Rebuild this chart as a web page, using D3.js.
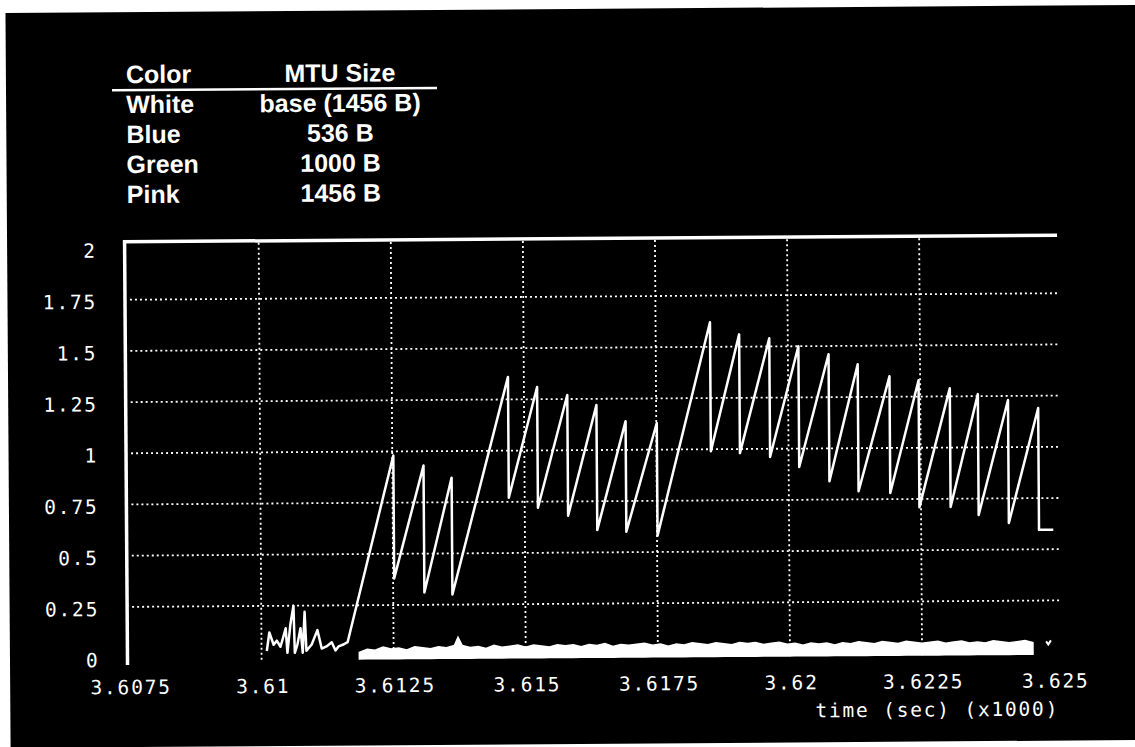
<!DOCTYPE html>
<html>
<head>
<meta charset="utf-8">
<script src="https://cdn.jsdelivr.net/npm/d3@7"></script>
<style>
    html, body { margin: 0; padding: 0; background: #fff; }
    svg { display: block; }
    .tick-label { font-family: "DejaVu Sans Mono", monospace; font-size: 19.5px; letter-spacing: 1.8px; fill: #fff; }
    .legend-text { font-family: "Liberation Sans", Arial, sans-serif; font-weight: bold; font-size: 25px; fill: #fff; }
</style>
</head>
<body>
<div id="chart"></div>
<script>
// legend table
const legendColors = ["White", "Blue", "Green", "Pink"];
const legendSizes = ["base (1456 B)", "536 B", "1000 B", "1456 B"];

// axis ticks
const xTicks = [3.6075, 3.61, 3.6125, 3.615, 3.6175, 3.62, 3.6225, 3.625];
const xTickLabels = ["3.6075", "3.61", "3.6125", "3.615", "3.6175", "3.62", "3.6225", "3.625"];
const yTicks = [0, 0.25, 0.5, 0.75, 1, 1.25, 1.5, 1.75, 2];
const yTickLabels = ["0", "0.25", "0.5", "0.75", "1", "1.25", "1.5", "1.75", "2"];
const xTitle = "time (sec) (x1000)";

// main trace, [time (s, x1000), value]
const trace = [
    [3.61010, 0.03], [3.61015, 0.12], [3.61023, 0.06], [3.61029, 0.08], [3.61036, 0.05],
    [3.61046, 0.14], [3.61049, 0.02], [3.61055, 0.16], [3.61061, 0.25], [3.61063, 0.02],
    [3.61068, 0.06], [3.61074, 0.14], [3.61078, 0.02], [3.61082, 0.22], [3.61085, 0.03],
    [3.61095, 0.06], [3.61106, 0.13], [3.61114, 0.04], [3.61123, 0.05], [3.61133, 0.07],
    [3.61140, 0.03], [3.61146, 0.05], [3.61156, 0.06], [3.61163, 0.07],
    [3.61252, 0.98], [3.61252, 0.38],
    [3.61309, 0.93], [3.61309, 0.31],
    [3.61362, 0.87], [3.61362, 0.30],
    [3.61470, 1.36], [3.61470, 0.77],
    [3.61525, 1.31], [3.61525, 0.72],
    [3.61582, 1.27], [3.61582, 0.68],
    [3.61637, 1.22], [3.61637, 0.61],
    [3.61692, 1.14], [3.61692, 0.60],
    [3.61751, 1.13], [3.61751, 0.58],
    [3.61853, 1.62], [3.61853, 0.99],
    [3.61908, 1.56], [3.61908, 0.98],
    [3.61965, 1.54], [3.61965, 0.96],
    [3.62020, 1.50], [3.62020, 0.91],
    [3.62077, 1.46], [3.62077, 0.84],
    [3.62132, 1.41], [3.62132, 0.79],
    [3.62192, 1.35], [3.62192, 0.78],
    [3.62247, 1.33], [3.62247, 0.71],
    [3.62306, 1.29], [3.62306, 0.71],
    [3.62359, 1.26], [3.62359, 0.67],
    [3.62416, 1.23], [3.62416, 0.63],
    [3.62473, 1.19], [3.62473, 0.595],
    [3.62500, 0.595]
];

// thick noisy band near zero: [time, top value]
const bandFloor = -0.012;
const band = [
    [3.61185, 0.02], [3.6120, 0.035], [3.61215, 0.03], [3.6123, 0.045], [3.61245, 0.035],
    [3.6126, 0.04], [3.61275, 0.03], [3.6129, 0.045], [3.61305, 0.04], [3.6132, 0.035],
    [3.61335, 0.045], [3.6135, 0.04], [3.61365, 0.05], [3.61372, 0.09], [3.6138, 0.05],
    [3.61395, 0.04], [3.6141, 0.045], [3.61425, 0.035], [3.6144, 0.05], [3.61455, 0.04],
    [3.6147, 0.045], [3.61485, 0.05], [3.615, 0.04], [3.61515, 0.05], [3.6153, 0.045],
    [3.61545, 0.04], [3.6156, 0.05], [3.61575, 0.045], [3.6159, 0.05], [3.61605, 0.04],
    [3.6162, 0.05], [3.61635, 0.045], [3.6165, 0.055], [3.61665, 0.04], [3.6168, 0.05],
    [3.61695, 0.045], [3.6171, 0.05], [3.61725, 0.055], [3.6174, 0.045], [3.61755, 0.05],
    [3.6177, 0.04], [3.61785, 0.05], [3.618, 0.045], [3.61815, 0.055], [3.6183, 0.05],
    [3.61845, 0.045], [3.6186, 0.055], [3.61875, 0.05], [3.6189, 0.045], [3.61905, 0.055],
    [3.6192, 0.05], [3.61935, 0.055], [3.6195, 0.045], [3.61965, 0.05], [3.6198, 0.055],
    [3.61995, 0.045], [3.6201, 0.05], [3.62025, 0.04], [3.6204, 0.05], [3.62055, 0.045],
    [3.6207, 0.05], [3.62085, 0.04], [3.621, 0.05], [3.62115, 0.045], [3.6213, 0.055],
    [3.62145, 0.05], [3.6216, 0.045], [3.62175, 0.055], [3.6219, 0.05], [3.62205, 0.045],
    [3.6222, 0.055], [3.62235, 0.05], [3.6225, 0.045], [3.62265, 0.05], [3.6228, 0.055],
    [3.62295, 0.045], [3.6231, 0.05], [3.62325, 0.055], [3.6234, 0.045], [3.62355, 0.05],
    [3.6237, 0.045], [3.62385, 0.055], [3.624, 0.05], [3.62415, 0.045], [3.6243, 0.05],
    [3.62445, 0.055], [3.6246, 0.045]
];

// little mark after the band ends
const tailMark = [[3.62485, 0.05], [3.62489, 0.035], [3.62494, 0.055]];

const W = 1135, H = 747;

class TraceChart {
    constructor(_config) {
        this.config = _config;
        this.InitVis();
    }

    InitVis() {
        const vis = this;

        vis.margin = { top: 238.7, right: 77, bottom: 92, left: 127.5 };
        vis.width = W - vis.margin.left - vis.margin.right;
        vis.height = H - vis.margin.top - vis.margin.bottom;

        // the scan is tilted a little, so the whole drawing is too
        vis.root = d3.select(vis.config.parentElement).append("svg")
            .attr("width", W)
            .attr("height", H)
            .append("g")
            .attr("transform", `rotate(-0.4, ${W / 2}, ${H / 2})`);

        vis.root.append("rect")
            .attr("x", 8).attr("y", 9)
            .attr("width", 1150).attr("height", 735)
            .attr("fill", "#000");

        vis.svg = vis.root.append("g")
            .attr("transform", `translate(${vis.margin.left},${vis.margin.top})`);

        // Scales
        vis.x = d3.scaleLinear().domain([3.6075, 3.62511]).range([0, vis.width]);
        vis.y = d3.scaleLinear().domain([0, 2.033]).range([vis.height, 0]);

        vis.RenderLegend();
        vis.RenderVis();
    }

    RenderLegend() {
        const vis = this;
        const lg = vis.root.append("g");

        lg.append("text").attr("class", "legend-text")
            .attr("x", 128).attr("y", 80).text("Color");
        lg.append("text").attr("class", "legend-text")
            .attr("x", 342).attr("y", 80).style("text-anchor", "middle").text("MTU Size");
        lg.append("line")
            .attr("x1", 114).attr("x2", 439).attr("y1", 87).attr("y2", 87)
            .attr("stroke", "#fff").attr("stroke-width", 2.5);

        lg.selectAll(".lg-color")
            .data(legendColors)
            .join("text")
            .attr("class", "legend-text lg-color")
            .attr("x", 128)
            .attr("y", (d, i) => 110 + i * 30)
            .text(d => d);

        lg.selectAll(".lg-size")
            .data(legendSizes)
            .join("text")
            .attr("class", "legend-text lg-size")
            .attr("x", 342)
            .attr("y", (d, i) => 110 + i * 30)
            .style("text-anchor", "middle")
            .text(d => d);
    }

    RenderVis() {
        const vis = this;

        // dotted grid
        vis.svg.selectAll(".hgrid")
            .data(yTicks.slice(1, -1))
            .join("line")
            .attr("class", "hgrid")
            .attr("x1", 3).attr("x2", vis.width)
            .attr("y1", d => vis.y(d)).attr("y2", d => vis.y(d))
            .attr("stroke", "#fff").attr("stroke-width", 1.8)
            .attr("stroke-dasharray", "2,3");

        vis.svg.selectAll(".vgrid")
            .data(xTicks.slice(1, -1))
            .join("line")
            .attr("class", "vgrid")
            .attr("x1", d => vis.x(d)).attr("x2", d => vis.x(d))
            .attr("y1", 2).attr("y2", vis.height + 4)
            .attr("stroke", "#fff").attr("stroke-width", 1.8)
            .attr("stroke-dasharray", "2,3");

        // frame: left and top only
        vis.svg.append("line")
            .attr("x1", -2).attr("x2", -2)
            .attr("y1", -1.7).attr("y2", vis.height + 7)
            .attr("stroke", "#fff").attr("stroke-width", 3.5);
        vis.svg.append("line")
            .attr("x1", -3.5).attr("x2", vis.width)
            .attr("y1", 0).attr("y2", 0)
            .attr("stroke", "#fff").attr("stroke-width", 3.5);

        // band near zero
        const area = d3.area()
            .x(d => vis.x(d[0]))
            .y0(vis.y(bandFloor))
            .y1(d => vis.y(d[1]));
        vis.svg.append("path")
            .datum(band)
            .attr("d", area)
            .attr("fill", "#fff")
            .attr("stroke", "#fff")
            .attr("stroke-width", 1.5);

        const line = d3.line()
            .x(d => vis.x(d[0]))
            .y(d => vis.y(d[1]));

        vis.svg.append("path")
            .datum(tailMark)
            .attr("d", line)
            .attr("fill", "none")
            .attr("stroke", "#fff")
            .attr("stroke-width", 2);

        vis.svg.append("path")
            .datum(trace)
            .attr("d", line)
            .attr("fill", "none")
            .attr("stroke", "#fff")
            .attr("stroke-width", 2.5)
            .attr("stroke-linejoin", "round");

        // axes
        const xAxis = d3.axisBottom(vis.x)
            .tickValues(xTicks)
            .tickFormat((d, i) => xTickLabels[i])
            .tickSize(0);
        const xg = vis.svg.append("g")
            .attr("transform", `translate(0,${vis.height})`)
            .call(xAxis);
        xg.select(".domain").remove();
        xg.selectAll("text")
            .attr("class", "tick-label")
            .attr("dy", null)
            .attr("x", 0.9)
            .attr("y", 36)
            .attr("fill", null);

        const yAxis = d3.axisLeft(vis.y)
            .tickValues(yTicks)
            .tickFormat((d, i) => yTickLabels[i])
            .tickSize(0);
        const yg = vis.svg.append("g").call(yAxis);
        yg.select(".domain").remove();
        yg.selectAll("text")
            .attr("class", "tick-label")
            .attr("dy", null)
            .attr("x", -30)
            .attr("y", 8.5)
            .attr("fill", null);

        vis.svg.append("text")
            .attr("class", "tick-label")
            .attr("x", 1055 - vis.margin.left + 1.8)
            .attr("y", vis.height + 64)
            .style("text-anchor", "end")
            .text(xTitle);
    }
}

new TraceChart({ parentElement: "#chart" });
</script>
</body>
</html>
